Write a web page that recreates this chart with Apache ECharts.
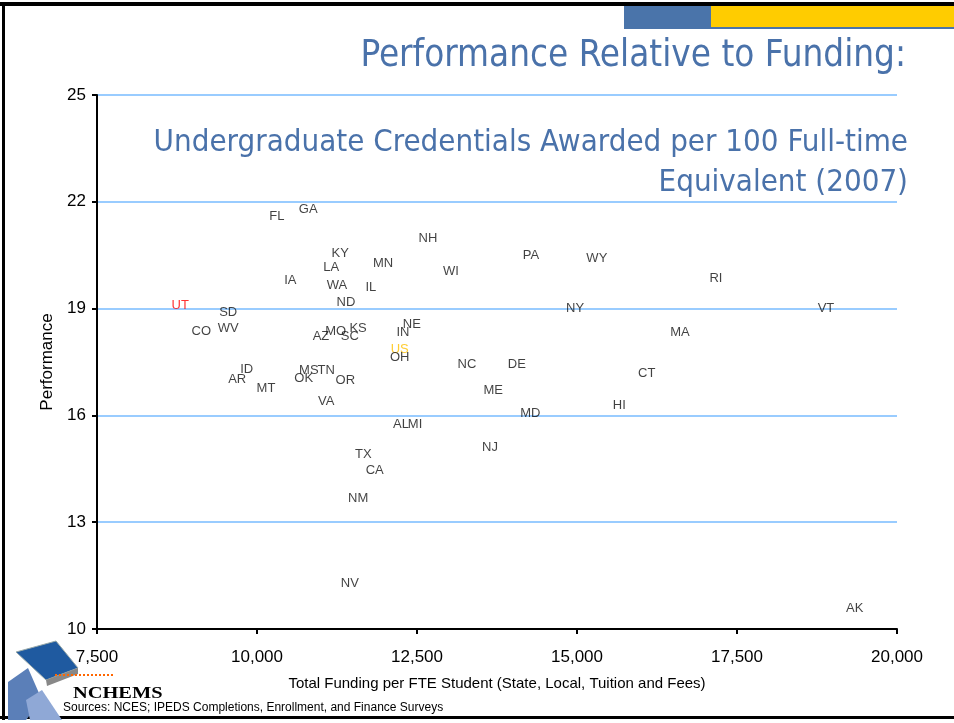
<!DOCTYPE html>
<html>
<head>
<meta charset="utf-8">
<script src="https://cdn.jsdelivr.net/npm/echarts@6/dist/echarts.min.js"></script>
<style>
  html, body { margin: 0; padding: 0; background: #fff; }
  #chart { width: 954px; height: 723px; }
</style>
</head>
<body>
<div id="chart"></div>
<script>
// 州名、人均经费、绩效
const states = ['FL','GA','NH','KY','LA','MN','WI','IA','WA','IL','ND','UT','SD','CO','WV','AZ','MO','KS','SC','IN','NE','US','OH','ID','AR','MT','MS','TN','OK','OR','VA','AL','MI','TX','CA','NM','NV','NJ','NC','DE','ME','MD','PA','WY','NY','RI','VT','MA','CT','HI','AK']
const funding = [10310,10800,12670,11300,11160,11970,13030,10520,11250,11780,11390,8800,9550,9130,9550,11000,11230,11580,11450,12280,12420,12230,12230,9840,9690,10140,10810,11080,10730,11380,11080,12250,12470,11660,11840,11580,11450,13640,13280,14060,13690,14270,14280,15310,14970,17170,18890,16610,16090,15660,19340]
const performance = [21.58,21.78,20.98,20.54,20.15,20.26,20.04,19.78,19.64,19.59,19.17,19.08,18.88,18.35,18.44,18.21,18.35,18.44,18.21,18.32,18.55,17.85,17.62,17.28,17.0,16.75,17.26,17.26,17.03,16.97,16.38,15.74,15.74,14.9,14.45,13.66,11.27,15.09,17.42,17.42,16.69,16.05,20.49,20.4,19.0,19.84,19.0,18.32,17.17,16.27,10.57]
const highlight = { UT: '#ff0000', US: '#ffc000' }

const xTicks = [7500, 10000, 12500, 15000, 17500, 20000]
const yTicks = [10, 13, 16, 19, 22, 25]

const chart = echarts.init(document.getElementById('chart'))

const points = states.map((s, i) => ({
  name: s,
  value: [funding[i], performance[i]],
  label: { color: highlight[s] || '#111' }
}))

const option = {
  animation: false,
  backgroundColor: '#fff',
  grid: { left: 97, right: 57, top: 95, bottom: 94 },
  xAxis: {
    type: 'value',
    z: 10,
    min: xTicks[0],
    max: xTicks[xTicks.length - 1],
    interval: 2500,
    name: 'Total Funding per FTE Student (State, Local, Tuition and Fees)',
    nameLocation: 'middle',
    nameGap: 47,
    nameTextStyle: { fontFamily: 'Liberation Sans', fontSize: 15, color: '#000' },
    axisLine: { lineStyle: { color: '#000', width: 2 } },
    axisTick: { show: true, length: 5, lineStyle: { color: '#000', width: 2 } },
    axisLabel: {
      fontFamily: 'Liberation Sans', fontSize: 17, color: '#000', margin: 20,
      formatter: (v) => v.toLocaleString('en-US')
    },
    splitLine: { show: false }
  },
  yAxis: {
    type: 'value',
    min: yTicks[0],
    max: yTicks[yTicks.length - 1],
    interval: 3,
    name: 'Performance',
    nameLocation: 'middle',
    nameGap: 40,
    nameTextStyle: { fontFamily: 'Liberation Sans', fontSize: 17, color: '#000' },
    axisLine: { show: true, lineStyle: { color: '#000', width: 2 } },
    axisTick: { show: true, length: 5, lineStyle: { color: '#000', width: 2 } },
    axisLabel: { fontFamily: 'Liberation Sans', fontSize: 17, color: '#000', margin: 11 },
    splitLine: { show: true, lineStyle: { color: '#99ccff', width: 2 } }
  },
  series: [{
    type: 'scatter',
    symbolSize: 1,
    itemStyle: { color: 'rgba(0,0,0,0)' },
    label: {
      show: true,
      position: 'inside',
      formatter: '{b}',
      fontFamily: 'Liberation Sans',
      fontSize: 13
    },
    data: points,
    z: 5
  }],
  graphic: [
    // 幻灯片边框与顶部色块
    { type: 'rect', shape: { x: 0, y: 2, width: 954, height: 4 }, style: { fill: '#000' } },
    { type: 'rect', shape: { x: 2, y: 2, width: 3, height: 718 }, style: { fill: '#000' } },
    { type: 'rect', shape: { x: 0, y: 716, width: 954, height: 3 }, style: { fill: '#000' } },
    { type: 'rect', shape: { x: 624, y: 6, width: 87, height: 23 }, style: { fill: '#4a74aa' } },
    { type: 'rect', shape: { x: 711, y: 6, width: 243, height: 21 }, style: { fill: '#ffcc00' } },
    { type: 'rect', shape: { x: 711, y: 27, width: 243, height: 2 }, style: { fill: '#4a74aa' } },
    {
      type: 'text', right: 48, top: 38, z: 10,
      style: { text: 'Performance Relative to Funding:', fontFamily: 'DejaVu Sans Condensed', fontSize: 36.5, fill: '#4a72aa' }
    },
    {
      type: 'text', right: 46, top: 127, z: 10,
      style: { text: 'Undergraduate Credentials Awarded per 100 Full-time', fontFamily: 'DejaVu Sans Condensed', fontSize: 31, fill: '#4a72aa' }
    },
    {
      type: 'text', right: 46, top: 167, z: 10,
      style: { text: 'Equivalent (2007)', fontFamily: 'DejaVu Sans Condensed', fontSize: 31, fill: '#4a72aa' }
    },
    // NCHEMS 标志
    { type: 'polygon', shape: { points: [[8, 682], [28, 668], [42, 700], [26, 720], [8, 720]] }, style: { fill: '#5b7fb8' } },
    { type: 'polygon', shape: { points: [[26, 700], [42, 690], [62, 720], [30, 720]] }, style: { fill: '#8fa8d6' } },
    { type: 'polygon', shape: { points: [[16, 652], [56, 641], [78, 668], [46, 680]] }, style: { fill: '#1f5aa0', stroke: '#9aa', lineWidth: 1 } },
    { type: 'polygon', shape: { points: [[46, 680], [78, 668], [78, 674], [47, 686]] }, style: { fill: '#888' } },
    { type: 'line', shape: { x1: 55, y1: 675, x2: 115, y2: 675 }, style: { stroke: '#ff6600', lineWidth: 2, lineDash: [2, 2] } },
    { type: 'text', left: 73, top: 685, scaleX: 1.2, originX: 73, style: { text: 'NCHEMS', fontFamily: 'Liberation Serif', fontWeight: 'bold', fontSize: 17, fill: '#000' } },
    { type: 'text', left: 63, top: 702, style: { text: 'Sources: NCES; IPEDS Completions, Enrollment, and Finance Surveys', fontFamily: 'Liberation Sans', fontSize: 12, fill: '#000' } }
  ]
}

chart.setOption(option)
</script>
</body>
</html>
